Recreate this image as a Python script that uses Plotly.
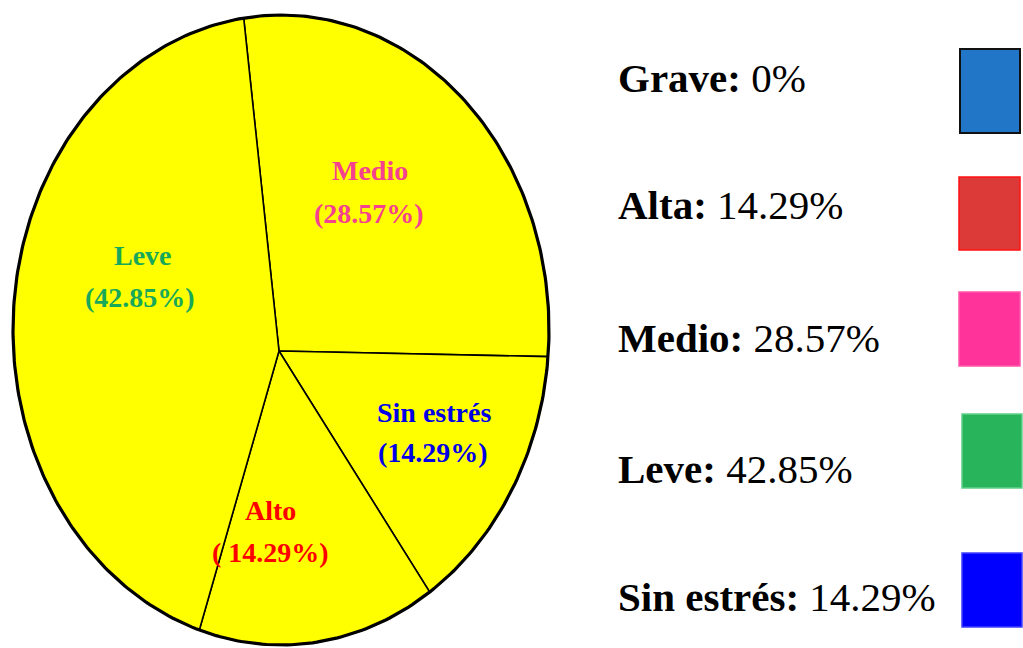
import numpy as np
import plotly.graph_objects as go

# ---- data ----
slice_names = ["Medio", "Sin estrés", "Alto", "Leve"]
slice_values = [28.57, 14.29, 14.29, 42.85]
slice_value_text = ["(28.57%)", "(14.29%)", "( 14.29%)", "(42.85%)"]
slice_label_colors = ["#F5418F", "#0000E6", "#FF0000", "#17A85A"]

legend_names = ["Grave", "Alta", "Medio", "Leve", "Sin estrés"]
legend_values = [0, 14.29, 28.57, 42.85, 14.29]
legend_colors = ["#2176C7", "#DC3A38", "#FF3399", "#28B45A", "#0000FF"]
legend_borders = ["#111111", "#FF1010", "#FF55AA", "#5FD08A", "#4040FF"]

# ---- layout geometry (pixel space of the page) ----
W, H = 1023, 648
cx, cy, rx, ry = 281, 330, 268, 315       # ellipse outline
sx, sy = 279, 351                          # spoke meeting point
start_deg = -8
label_pos = [((370, 170), (369, 213)),
             ((434, 412), (433, 452)),
             ((270, 510), (270, 552)),
             ((143, 255), (140, 297))]
legend_text_y = [78, 205, 338, 469, 597]
legend_box = [(960, 1020, 49, 133), (959, 1020, 177, 250), (959, 1020, 292, 366),
              (962, 1022, 414, 488), (962, 1022, 553, 627)]
legend_text_x = 616


def ell(t_deg):
    t = np.radians(t_deg)
    return cx + rx * np.sin(t), cy - ry * np.cos(t)


fig = go.Figure()
total = sum(slice_values)
a0 = start_deg
for name, v in zip(slice_names, slice_values):
    a1 = a0 + 360 * v / total
    ts = np.linspace(a0, a1, 120)
    px, py = ell(ts)
    xs = np.concatenate([[sx], px, [sx]])
    ys = np.concatenate([[sy], py, [sy]])
    fig.add_trace(go.Scatter(x=xs, y=ys, mode="lines", fill="toself",
                             fillcolor="#FFFF00", line=dict(color="#000000", width=1.6),
                             hoverinfo="text", text=name, showlegend=False))
    a0 = a1

# outline
ts = np.linspace(0, 360, 400)
ox, oy = ell(ts)
fig.add_trace(go.Scatter(x=ox, y=oy, mode="lines", line=dict(color="#000000", width=3.2),
                         hoverinfo="skip", showlegend=False))

annotations = []
for name, vt, col, (p1, p2) in zip(slice_names, slice_value_text, slice_label_colors, label_pos):
    for txt, p in ((name, p1), (vt, p2)):
        annotations.append(dict(x=p[0], y=p[1], xref="x", yref="y", text=f"<b>{txt}</b>",
                                showarrow=False, xanchor="center", yanchor="middle",
                                font=dict(family="Liberation Serif", size=28, color=col)))

shapes = []
for name, v, col, bc, ty, (x0, x1, y0, y1) in zip(legend_names, legend_values, legend_colors,
                                                   legend_borders, legend_text_y, legend_box):
    annotations.append(dict(x=legend_text_x, y=ty, xref="x", yref="y",
                            text=f"<b>{name}:</b> {v:g}%", showarrow=False,
                            xanchor="left", yanchor="middle",
                            font=dict(family="Liberation Serif", size=41, color="#000000")))
    shapes.append(dict(type="rect", x0=x0, x1=x1, y0=y0, y1=y1, xref="x", yref="y",
                       fillcolor=col, line=dict(color=bc, width=2 if name == "Grave" else 1.5)))

fig.update_layout(
    width=W, height=H, margin=dict(l=0, r=0, t=0, b=0),
    paper_bgcolor="white", plot_bgcolor="white",
    xaxis=dict(range=[0, W], visible=False, fixedrange=True),
    yaxis=dict(range=[H, 0], visible=False, fixedrange=True),
    annotations=annotations, shapes=shapes, showlegend=False,
)
fig.write_html("out.html", config={"displayModeBar": False},
               post_script="document.body.style.margin='0';document.body.style.overflow='hidden';")
